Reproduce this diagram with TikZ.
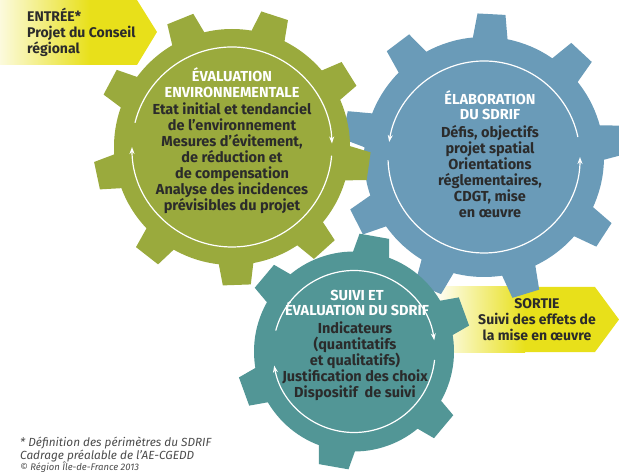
\documentclass[tikz,border=0pt]{standalone}
\usepackage{fontspec}
\setmainfont{Fira Sans}
\usepackage{tikz}
\usetikzlibrary{arrows.meta, calc, positioning}

\definecolor{vert}{HTML}{9AAA3D}
\definecolor{bleu}{HTML}{6A9BB8}
\definecolor{sarcelle}{HTML}{529696}
\definecolor{jaune}{HTML}{E8E01A}
\definecolor{texte}{HTML}{2B2B2B}

% ingranaggio: centro, denti, raggio corpo, raggio denti, angolo, colore, mezza base, mezza punta
\newcommand{\drawgear}[8]{%
  \fill[#6] (#1) circle[radius=#3];
  \foreach \k in {1,...,#2}{
    \begin{scope}[shift={(#1)}, rotate=#5+360/#2*\k]
      \fill[#6] (#3-6,-#7) -- (#4,-#8) -- (#4,#8) -- (#3-6,#7) -- cycle;
    \end{scope}
  }
}

\begin{document}
\begin{tikzpicture}[x=1pt,y=1pt,
    titre/.style={text=white,font=\bfseries\fontsize{14.5}{15.5}\selectfont,align=center},
    corps/.style={text=texte,font=\bfseries\fontsize{14.5}{16}\selectfont,align=center},
    fleche/.style={text=texte,font=\bfseries\fontsize{14}{16}\selectfont},
    anneau/.style={white,line width=1.2pt,-{Stealth[length=7pt,width=5pt]}},
    note/.style={text=texte!85,font=\itshape\fontsize{11.8}{13}\selectfont,anchor=west,inner sep=0pt}]
    \useasboundingbox (0,0) rectangle (619,472);

    % Freccia di entrata
    \fill[jaune] (0,472) -- (137,472) -- (157,440) -- (137,407) -- (0,407) -- cycle;
    \shade[left color=jaune!15,right color=jaune] (0,407) rectangle (90,472);
    \node[fleche,align=left,anchor=west,inner sep=0pt] (entree) at (27,440) {ENTRÉE*\\Projet du Conseil\\régional};

    % Freccia di uscita
    \fill[jaune] (525,185) -- (595,185) -- (619,152.5) -- (595,120) -- (525,120) -- cycle;
    \shade[left color=white,right color=jaune] (433,120) rectangle (525,185);
    \node[fleche,align=center] (sortie) at (537,152) {SORTIE\\Suivi des effets de\\la mise en œuvre};

    % Ingranaggi
    \coordinate (cvert) at (232,325);
    \coordinate (cbleu) at (484,315);
    \coordinate (csarc) at (354,120.5);
    \drawgear{cbleu}{9}{120}{143}{87}{bleu}{18}{14}
    \drawgear{cvert}{9}{118}{138}{72}{vert}{18}{14}
    \drawgear{csarc}{6}{100}{117}{80}{sarcelle}{19}{15}

    % Anelli con frecce
    \draw[anneau] ($(cvert)+(166:100)$) arc[start angle=166,end angle=2,radius=100];
    \draw[anneau] ($(cvert)+(-5:100)$) arc[start angle=-5,end angle=-180,radius=100];
    \draw[anneau] ($(cbleu)+(12:96)$) arc[start angle=12,end angle=171,radius=96];
    \draw[anneau] ($(cbleu)+(182:96)$) arc[start angle=182,end angle=360,radius=96];
    \draw[anneau] ($(csarc)+(165:81)$) arc[start angle=165,end angle=8,radius=81];
    \draw[anneau] ($(csarc)+(-6:81)$) arc[start angle=-6,end angle=-170,radius=81];

    % Testi degli ingranaggi
    \node[titre] (titrevert) at (232,389.5) {ÉVALUATION\\ENVIRONNEMENTALE};
    \node[corps] (corpsvert) at (232,314) {Etat initial et tendanciel\\de l’environnement\\Mesures d’évitement,\\de réduction et\\de compensation\\Analyse des incidences\\prévisibles du projet};
    \node[titre] (titrebleu) at (490,367) {ÉLABORATION\\DU SDRIF};
    \node[corps] (corpsbleu) at (490,300.5) {Défis, objectifs\\projet spatial\\Orientations\\réglementaires,\\CDGT, mise\\en œuvre};
    \node[titre] (titresarc) at (357,169) {SUIVI ET\\ÉVALUATION DU SDRIF};
    \node[corps] (corpssarc) at (355,111) {Indicateurs\\(quantitatifs\\et qualitatifs)\\Justification des choix\\Dispositif\ \ de suivi};

    % Note
    \node[note] (note1) at (20,29) {* Définition des périmètres du SDRIF};
    \node[note] (note2) at (20,16) {Cadrage préalable de l’AE-CGEDD};
    \node[note,font=\itshape\fontsize{9.5}{10}\selectfont] (copyright) at (20,5) {© Région Île-de-France 2013};
\end{tikzpicture}
\end{document}
